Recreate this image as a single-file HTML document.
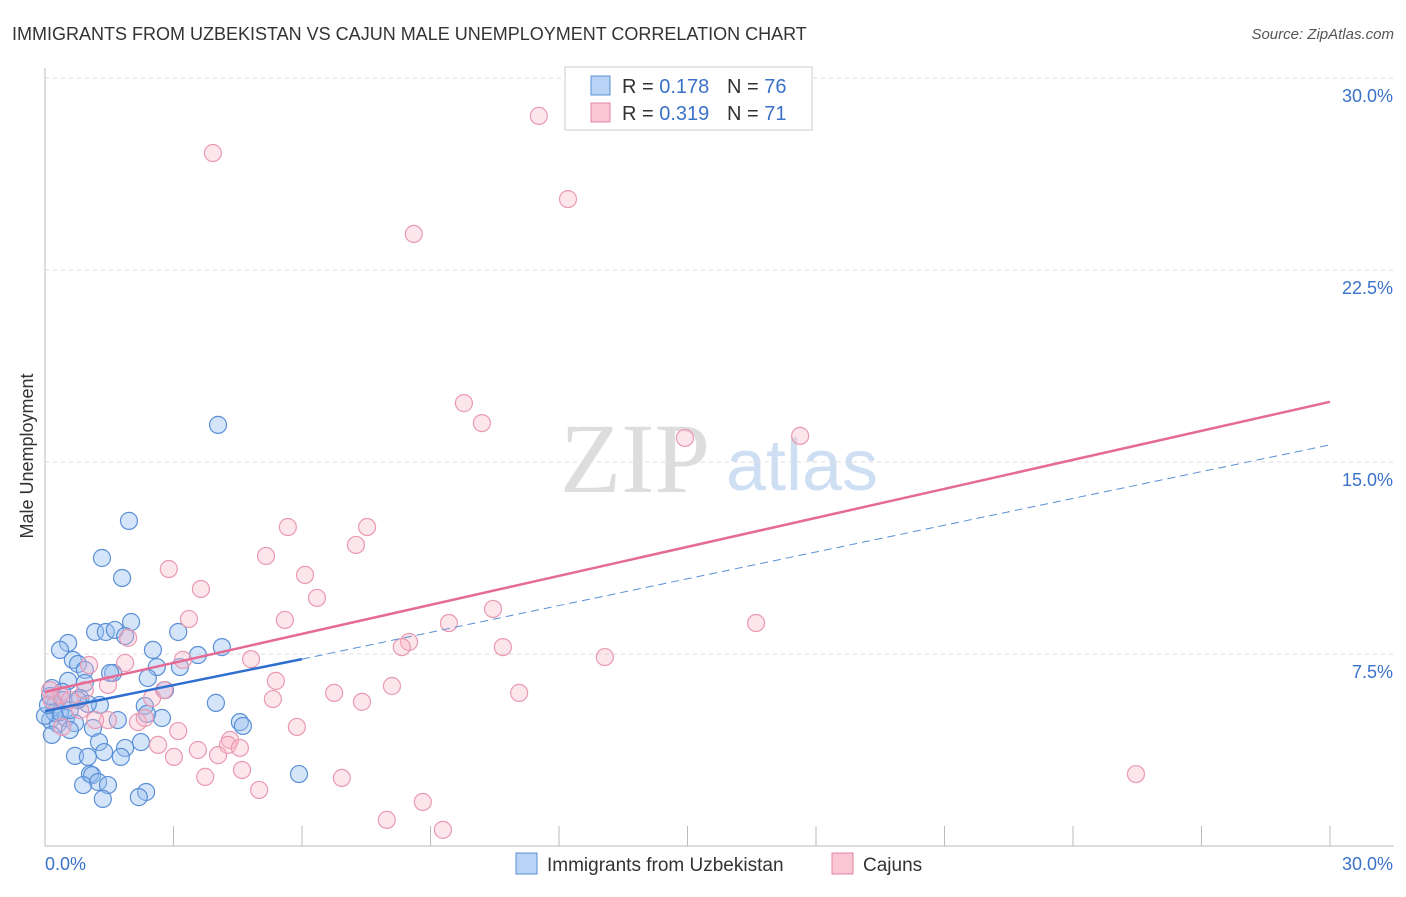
<!DOCTYPE html>
<html><head><meta charset="utf-8"><style>
body{margin:0;background:#fff;font-family:"Liberation Sans",sans-serif}
svg text{font-family:"Liberation Sans",sans-serif}
svg text.serif{font-family:"Liberation Serif",serif}
</style></head><body>
<svg id="c" width="1406" height="892">
<text x="12" y="40" font-size="18" fill="#333">IMMIGRANTS FROM UZBEKISTAN VS CAJUN MALE UNEMPLOYMENT CORRELATION CHART</text>
<text x="1394" y="39" font-size="15" fill="#555" font-style="italic" text-anchor="end">Source: ZipAtlas.com</text>
<text x="33" y="456" font-size="18" fill="#333" transform="rotate(-90 33 456)" text-anchor="middle">Male Unemployment</text>
<text class="serif" x="635" y="492" font-size="100" fill="#ddd" text-anchor="middle">ZIP</text>
<text x="802" y="490" font-size="72" fill="#cfdff3" text-anchor="middle">atlas</text>
<g id="grid"></g><g id="pts"></g><g id="lines"></g>
<g>
<rect x="565" y="67" width="247" height="63" fill="#fff" stroke="#ccc"/>
<rect x="591" y="76" width="19" height="19" fill="#b8d3f5" stroke="#5a8fd6"/>
<rect x="591" y="103" width="19" height="19" fill="#f9c6d6" stroke="#e4849f"/>
<text x="622" y="93" font-size="20" fill="#333">R = <tspan fill="#3a72c9">0.178</tspan></text>
<text x="727" y="93" font-size="20" fill="#333">N = <tspan fill="#3a72c9">76</tspan></text>
<text x="622" y="120" font-size="20" fill="#333">R = <tspan fill="#3a72c9">0.319</tspan></text>
<text x="727" y="120" font-size="20" fill="#333">N = <tspan fill="#3a72c9">71</tspan></text>
</g>
<g>
<rect x="516" y="853" width="21" height="21" fill="#b8d3f5" stroke="#5a8fd6"/>
<text x="547" y="871" font-size="19" fill="#333">Immigrants from Uzbekistan</text>
<rect x="832" y="853" width="21" height="21" fill="#f9c6d6" stroke="#e4849f"/>
<text x="863" y="871" font-size="19" fill="#333">Cajuns</text>
</g>
</svg>
<script>
const yTicks=[7.5,15,22.5,30];
const yTickLabels=["7.5%","15.0%","22.5%","30.0%"];
const xTicks=[0,3,6,9,12,15,18,21,24,27,30];
const bluePx=[[218,425],[129,521],[102,558],[122,578],[131,622],[95,632],[106,632],[115,630],[125,636],[68,643],[60,650],[73,660],[78,664],[153,650],[178,632],[198,655],[222,647],[157,667],[180,667],[113,673],[110,673],[85,670],[85,683],[68,681],[52,688],[148,678],[165,690],[62,692],[80,698],[100,705],[145,706],[88,704],[216,703],[240,722],[243,726],[162,718],[147,714],[118,720],[93,728],[55,705],[50,720],[58,724],[66,718],[75,723],[52,735],[70,730],[99,742],[125,748],[141,742],[104,752],[75,756],[88,757],[121,757],[90,774],[92,775],[83,785],[98,782],[108,785],[146,792],[139,797],[103,799],[299,774],[55,713],[60,712],[45,716],[48,705],[50,696],[63,700],[70,710],[78,700]];
const pinkPx=[[539,116],[213,153],[568,199],[414,234],[464,403],[482,423],[685,438],[800,436],[288,527],[367,527],[356,545],[266,556],[169,569],[305,575],[201,589],[317,598],[189,619],[285,620],[128,638],[493,609],[449,623],[756,623],[409,642],[503,647],[402,647],[605,657],[251,659],[183,660],[125,663],[89,665],[276,681],[164,690],[334,693],[392,686],[519,693],[273,699],[362,702],[152,698],[60,695],[70,700],[108,720],[138,722],[145,718],[297,727],[178,731],[158,745],[230,740],[228,745],[198,750],[218,755],[240,748],[174,757],[205,777],[242,770],[342,778],[259,790],[423,802],[387,820],[443,830],[1136,774],[108,685],[52,700],[62,727],[80,710],[95,720],[50,690],[85,690]];
const blueX=bluePx.map(p=>+((p[0]-45)/42.833).toFixed(2));
const blueY=bluePx.map(p=>+((846-p[1])/25.6).toFixed(2));
const pinkX=pinkPx.map(p=>+((p[0]-45)/42.833).toFixed(2));
const pinkY=pinkPx.map(p=>+((846-p[1])/25.6).toFixed(2));
const blueTrend=[[0,5.27],[6,7.3],[30,15.67]];
const pinkTrend=[[0,6.02],[30,17.35]];
const X=v=>45+v*42.833, Y=v=>846-v*25.6;
const NS="http://www.w3.org/2000/svg";
function mk(p,t,a){const e=document.createElementNS(NS,t);for(const k in a)e.setAttribute(k,a[k]);p.appendChild(e);return e;}
const g=document.getElementById('grid');
let ax=mk(g,'line',{x1:45,y1:68,x2:45,y2:846,stroke:'#bbb'});

let bx=mk(g,'line',{x1:45,y1:846,x2:1394,y2:846,stroke:'#bbb'});

yTicks.forEach((v,i)=>{
 const l=mk(g,'line',{x1:45,y1:Y(v),x2:1394,y2:Y(v),stroke:'#ddd','stroke-dasharray':'4 4'});
 
 const t=mk(g,'text',{x:1393,y:Y(v)+24,'font-size':18,fill:'#3a72c9','text-anchor':'end'});
 t.textContent=yTickLabels[i];
 
});
xTicks.forEach(v=>{const l=mk(g,'line',{x1:X(v),y1:826,x2:X(v),y2:846,stroke:'#bbb'});
 });
let t0=mk(g,'text',{x:45,y:870,'font-size':18,fill:'#3a72c9'});t0.textContent='0.0%';

let t1=mk(g,'text',{x:1393,y:870,'font-size':18,fill:'#3a72c9','text-anchor':'end'});t1.textContent='30.0%';

const pg=document.getElementById('pts');
blueX.forEach((v,i)=>{const c=mk(pg,'circle',{cx:X(v),cy:Y(blueY[i]),r:8.5,fill:'rgba(150,190,240,0.4)',stroke:'#5a8fd6','stroke-width':1.2});
 });
pinkX.forEach((v,i)=>{const c=mk(pg,'circle',{cx:X(v),cy:Y(pinkY[i]),r:8.5,fill:'rgba(248,180,200,0.35)',stroke:'#e99ab2','stroke-width':1.2});
 });
const lg=document.getElementById('lines');
let b1=mk(lg,'line',{x1:X(blueTrend[0][0]),y1:Y(blueTrend[0][1]),x2:X(blueTrend[1][0]),y2:Y(blueTrend[1][1]),stroke:'#2f6fd0','stroke-width':2.5});

let b2=mk(lg,'line',{x1:X(blueTrend[1][0]),y1:Y(blueTrend[1][1]),x2:X(blueTrend[2][0]),y2:Y(blueTrend[2][1]),stroke:'#5a8fd6','stroke-width':1,'stroke-dasharray':'8 5'});

let p1=mk(lg,'line',{x1:X(pinkTrend[0][0]),y1:Y(pinkTrend[0][1]),x2:X(pinkTrend[1][0]),y2:Y(pinkTrend[1][1]),stroke:'#e56a94','stroke-width':2.5});

</script>
</body></html>
